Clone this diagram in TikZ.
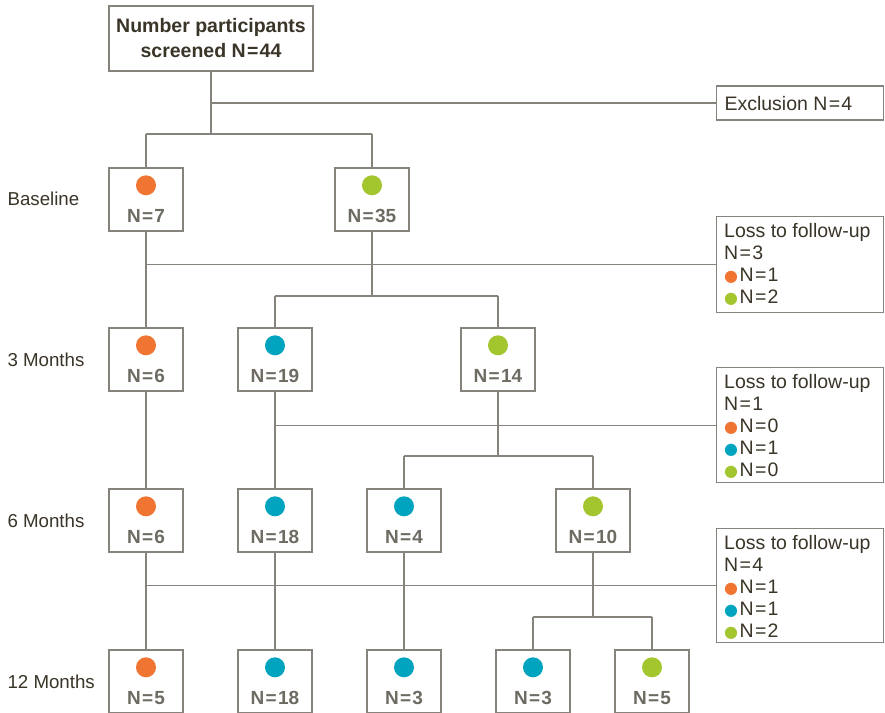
\documentclass[tikz,border=0pt]{standalone}
\usepackage{fontspec}
\setmainfont{Liberation Sans}
\newfontfamily\symfont{DejaVu Sans}
\definecolor{cor}{HTML}{F07532}
\definecolor{cgr}{HTML}{A3C52E}
\definecolor{cbl}{HTML}{00A4BF}
\definecolor{cline}{HTML}{85837B}
\definecolor{cnum}{HTML}{6E6B63}
\definecolor{ctxt}{HTML}{3A3528}
\newcommand\eqn{\kern1.3pt=\kern1.3pt}
\newcommand\bul[1]{{\symfont\textcolor{#1}{\fontsize{16}{16}\selectfont●}}\kern1.5pt}
\tikzset{
  conn/.style={draw=cline, line width=1.4pt},
  frame/.style={draw=cline, line width=1.4pt, fill=white, inner sep=0pt},
  grpbox/.style={frame, minimum width=74pt, minimum height=63pt},
  dotn/.style={circle, inner sep=0pt, minimum size=20pt},
  numtxt/.style={text=cnum, font=\fontsize{19}{20}\selectfont\bfseries},
  lbl/.style={text=ctxt, font=\fontsize{18.7}{20}\selectfont, anchor=west},
  losstxt/.style={text=ctxt, font=\fontsize{19.5}{22}\selectfont, align=left, anchor=north west, inner sep=0pt}
}
\newcommand\grp[5]{%
  \node[grpbox] (#1) at (#2,#3) {};
  \node[dotn, fill=#4] at ([yshift=-18pt]#1.north) {};
  \node[numtxt] at ([yshift=-48.5pt]#1.north) {#5};
}
\begin{document}
\begin{tikzpicture}[x=1pt,y=-1pt]
\useasboundingbox (0,0) rectangle (885,712);
\fill[white] (0,0) rectangle (885,712);

% top box
\node[frame, minimum width=204pt, minimum height=65pt, align=center,
      text=ctxt, font=\fontsize{19.5}{25}\selectfont\bfseries] (top) at (211,38.5)
      {Number participants\\screened N\eqn44};
\node[frame, minimum width=167pt, minimum height=34pt, anchor=west] (excl) at (716,103) {};
\node[lbl, font=\fontsize{19.5}{22}\selectfont] at (721,103.5) {Exclusion N\eqn4};

% row labels
\node[lbl] (lb0) at (4,198.5) {Baseline};
\node[lbl] (lb1) at (4,359.5) {3 Months};
\node[lbl] (lb2) at (4,520.5) {6 Months};
\node[lbl] (lb3) at (4,681.5) {12 Months};

% baseline
\grp{b1}{146}{199.5}{cor}{N\eqn7}
\grp{b2}{372}{199.5}{cgr}{N\eqn35}
% 3 months
\grp{m1}{146}{359.5}{cor}{N\eqn6}
\grp{m2}{275}{359.5}{cbl}{N\eqn19}
\grp{m3}{498}{359.5}{cgr}{N\eqn14}
% 6 months
\grp{s1}{146}{520.5}{cor}{N\eqn6}
\grp{s2}{275}{520.5}{cbl}{N\eqn18}
\grp{s3}{404}{520.5}{cbl}{N\eqn4}
\grp{s4}{593}{520.5}{cgr}{N\eqn10}
% 12 months
\grp{t1}{146}{681.5}{cor}{N\eqn5}
\grp{t2}{275}{681.5}{cbl}{N\eqn18}
\grp{t3}{404}{681.5}{cbl}{N\eqn3}
\grp{t4}{533}{681.5}{cbl}{N\eqn3}
\grp{t5}{652}{681.5}{cgr}{N\eqn5}

% loss boxes
\node[frame, minimum width=167pt, minimum height=96pt, anchor=north west] (loss1) at (716,216) {};
\node[losstxt] at (724,223) {Loss to follow-up\\N\eqn3\\\bul{cor}N\eqn1\\\bul{cgr}N\eqn2};
\node[frame, minimum width=167pt, minimum height=115pt, anchor=north west] (loss2) at (716,367) {};
\node[losstxt] at (724,374) {Loss to follow-up\\N\eqn1\\\bul{cor}N\eqn0\\\bul{cbl}N\eqn1\\\bul{cgr}N\eqn0};
\node[frame, minimum width=167pt, minimum height=114pt, anchor=north west] (loss3) at (716,528) {};
\node[losstxt] at (724,535) {Loss to follow-up\\N\eqn4\\\bul{cor}N\eqn1\\\bul{cbl}N\eqn1\\\bul{cgr}N\eqn2};

% connectors
\coordinate (j0) at (211,134);
\draw[conn] (top.south) -- (j0);
\draw[conn] (top.south |- excl.west) -- (excl.west);
\draw[conn] (b1.north |- j0) -- (b2.north |- j0);
\draw[conn] (b1.north |- j0) -- (b1.north);
\draw[conn] (b2.north |- j0) -- (b2.north);

\draw[conn] (b1.south) -- (m1.north);
\draw[conn] (b1.south |- loss1.west) -- (loss1.west);
\coordinate (j1) at (372,296);
\draw[conn] (b2.south) -- (j1);
\draw[conn] (m2.north |- j1) -- (m3.north |- j1);
\draw[conn] (m2.north |- j1) -- (m2.north);
\draw[conn] (m3.north |- j1) -- (m3.north);

\draw[conn] (m1.south) -- (s1.north);
\draw[conn] (m2.south) -- (s2.north);
\draw[conn] (m2.south |- loss2.west) -- (loss2.west);
\coordinate (j2) at (498,456);
\draw[conn] (m3.south) -- (j2);
\draw[conn] (s3.north |- j2) -- (s4.north |- j2);
\draw[conn] (s3.north |- j2) -- (s3.north);
\draw[conn] (s4.north |- j2) -- (s4.north);

\draw[conn] (s1.south) -- (t1.north);
\draw[conn] (s1.south |- loss3.west) -- (loss3.west);
\draw[conn] (s2.south) -- (t2.north);
\draw[conn] (s3.south) -- (t3.north);
\coordinate (j3) at (593,617);
\draw[conn] (s4.south) -- (j3);
\draw[conn] (t4.north |- j3) -- (t5.north |- j3);
\draw[conn] (t4.north |- j3) -- (t4.north);
\draw[conn] (t5.north |- j3) -- (t5.north);
\end{tikzpicture}
\end{document}
